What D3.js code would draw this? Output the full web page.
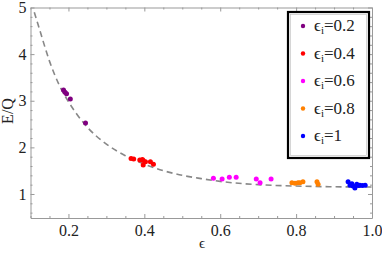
<!DOCTYPE html>
<html>
<head>
<meta charset="utf-8">
<style>
  body { margin: 0; background: #fff; }
  .frame path, .frame line { stroke: #999; }
</style>
</head>
<body>
<svg width="382" height="259"></svg>
<script src="https://cdn.jsdelivr.net/npm/d3@7/dist/d3.min.js"></script>
<script>
// data
var curveEps = [0.11, 0.125, 0.15, 0.175, 0.2, 0.225, 0.25, 0.3, 0.35, 0.4, 0.45, 0.5, 0.55, 0.6, 0.7, 0.8, 0.9, 1.0];
var curveEQ  = [4.9, 4.5, 3.85, 3.35, 2.98, 2.68, 2.43, 2.07, 1.82, 1.64, 1.5, 1.4, 1.33, 1.27, 1.2, 1.17, 1.155, 1.15];

var seriesNames = ["0.2", "0.4", "0.6", "0.8", "1"];
var seriesColors = ["#800080", "#ff0000", "#ff00ff", "#ff8000", "#0000ff"];

var eps02 = [0.187, 0.191, 0.195, 0.205, 0.245];
var eq02  = [3.23, 3.18, 3.15, 3.04, 2.52];
var eps04 = [0.365, 0.372, 0.388, 0.395, 0.397, 0.403, 0.397, 0.416, 0.424];
var eq04  = [1.76, 1.75, 1.73, 1.74, 1.72, 1.69, 1.62, 1.69, 1.64];
var eps06 = [0.582, 0.605, 0.624, 0.642, 0.695, 0.705, 0.734];
var eq06  = [1.34, 1.32, 1.36, 1.36, 1.32, 1.24, 1.32];
var eps08 = [0.789, 0.797, 0.805, 0.81, 0.818, 0.855, 0.858];
var eq08  = [1.24, 1.23, 1.24, 1.24, 1.26, 1.26, 1.21];
var eps10 = [0.937, 0.942, 0.947, 0.95, 0.955, 0.96, 0.964, 0.968, 0.975, 0.982];
var eq10  = [1.26, 1.19, 1.22, 1.17, 1.13, 1.21, 1.18, 1.19, 1.18, 1.19];

var xMajor = [0.2, 0.4, 0.6, 0.8, 1.0];
var yMajor = [1, 2, 3, 4, 5];

var serif = "'Liberation Serif', 'Times New Roman', Times, serif";

var svg = d3.select("svg");
var x = d3.scaleLinear().domain([0.1, 1.0]).range([30.5, 372]);
var y = d3.scaleLinear().domain([0.485, 5.0]).range([218, 7.5]);

var xMinor = d3.range(0.1, 1.0001, 0.05).filter(function(v) { return xMajor.indexOf(+v.toFixed(2)) < 0; });
var yMinor = d3.range(0.6, 5.0001, 0.2).filter(function(v) { return Math.abs(v - Math.round(v)) > 0.01; });

function frameAxis(axisFn, scale, tr, major, minor, labels) {
  var g = svg.append("g").attr("class", "frame").attr("transform", tr);
  g.call(axisFn(scale).tickValues(major).tickSize(-4).tickSizeOuter(0)
    .tickFormat(labels ? function(d) { return d3.format(".1f")(d); } : ""));
  var gm = svg.append("g").attr("class", "frame").attr("transform", tr);
  gm.call(axisFn(scale).tickValues(minor).tickSize(-2).tickSizeOuter(0).tickFormat(""));
  gm.select(".domain").remove();
  return g;
}

var xb = frameAxis(d3.axisBottom, x, "translate(0,218)", xMajor, xMinor, true);
xb.selectAll("text").attr("font-size", 16).attr("dy", "0.88em").attr("y", 4);
frameAxis(d3.axisTop, x, "translate(0,7.5)", xMajor, xMinor, false);

var yl = svg.append("g").attr("class", "frame").attr("transform", "translate(30.5,0)")
  .call(d3.axisLeft(y).tickValues(yMajor).tickSize(-4).tickSizeOuter(0).tickFormat(d3.format("d")));
yl.selectAll("text").attr("font-size", 16).attr("x", -4);
var ylm = svg.append("g").attr("class", "frame").attr("transform", "translate(30.5,0)")
  .call(d3.axisLeft(y).tickValues(yMinor).tickSize(-2).tickSizeOuter(0).tickFormat(""));
ylm.select(".domain").remove();
frameAxis(d3.axisRight, y, "translate(372,0)", yMajor, yMinor, false);
svg.selectAll(".frame").attr("font-family", serif);
svg.selectAll(".frame text").attr("fill", "#222").style("font-family", serif);

// axis titles
svg.append("text").attr("x", 202).attr("y", 248).attr("text-anchor", "middle")
  .style("font-family", serif).attr("fill", "#222").attr("font-size", 15).text("\u03f5");
svg.append("text").attr("transform", "translate(13,111) rotate(-90)")
  .style("font-family", serif).attr("fill", "#222")
  .attr("text-anchor", "middle").attr("font-size", 16).text("E/Q");

// dashed curve
var line = d3.line().curve(d3.curveMonotoneX)
  .x(function(d, i) { return x(curveEps[i]); })
  .y(function(d, i) { return y(curveEQ[i]); });
svg.append("path").datum(curveEps).attr("d", line)
  .attr("fill", "none").attr("stroke", "#888").attr("stroke-width", 1.6)
  .attr("stroke-dasharray", "6,4");

// points
var allEps = [eps02, eps04, eps06, eps08, eps10];
var allEQ = [eq02, eq04, eq06, eq08, eq10];
allEps.forEach(function(eps, s) {
  svg.append("g").selectAll("circle").data(eps).enter().append("circle")
    .attr("cx", function(d) { return x(d); })
    .attr("cy", function(d, i) { return y(allEQ[s][i]); })
    .attr("r", 2.5)
    .attr("fill", seriesColors[s]);
});

// legend
var lg = svg.append("g");
lg.append("rect").attr("x", 288).attr("y", 12).attr("width", 81).attr("height", 146)
  .attr("fill", "#fff").attr("stroke", "#000").attr("stroke-width", 2.2);
lg.append("rect").attr("x", 290.5).attr("y", 14.5).attr("width", 76).attr("height", 141)
  .attr("fill", "none").attr("stroke", "#bbb").attr("stroke-width", 0.6);
seriesNames.forEach(function(n, i) {
  var yy = 31 + i * 27.5;
  lg.append("circle").attr("cx", 303).attr("cy", yy - 5).attr("r", 2.2).attr("fill", seriesColors[i]);
  var t = lg.append("text").attr("x", 314).attr("y", yy).attr("font-size", 17)
    .style("font-family", serif).attr("fill", "#222");
  t.append("tspan").text("\u03f5");
  t.append("tspan").attr("font-size", 11).attr("dy", 3).text("i");
  t.append("tspan").attr("dy", -3).text("=" + n);
});
</script>
</body>
</html>
